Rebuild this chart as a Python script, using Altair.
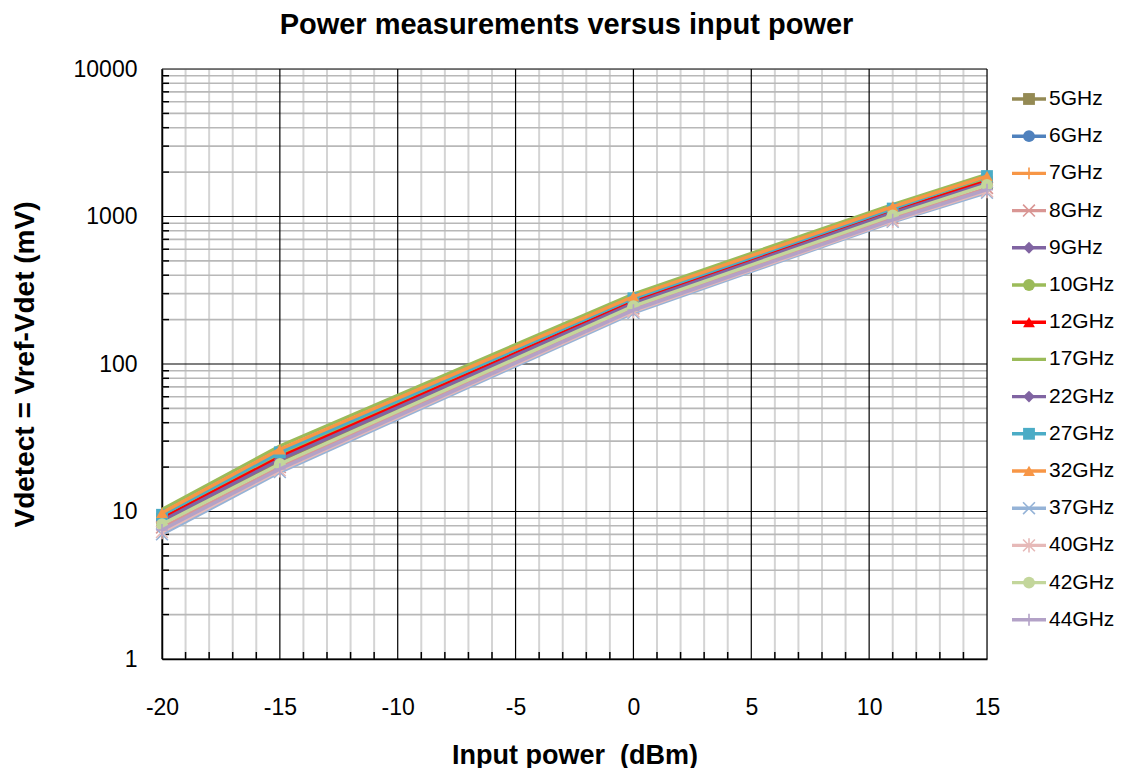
import altair as alt
import pandas as pd

# ---------------- data ----------------
series = ["5GHz", "6GHz", "7GHz", "8GHz", "9GHz", "10GHz", "12GHz", "17GHz",
          "22GHz", "27GHz", "32GHz", "37GHz", "40GHz", "42GHz", "44GHz"]
input_power = [-20, -15, 0, 11, 15]

v5 = [8.5, 22.0, 254, 1044, 1660]
v6 = [9.0, 23.5, 266, 1087, 1740]
v7 = [9.65, 25.7, 283, 1148, 1850]
v8 = [7.8, 20.0, 238, 975, 1560]
v9 = [8.8, 23.0, 262, 1072, 1710]
v10 = [9.3, 24.6, 274, 1117, 1790]
v12 = [8.95, 23.4, 265, 1085, 1735]
v17 = [10.3, 27.8, 298, 1205, 1930]
v22 = [8.67, 22.5, 258, 1058, 1690]
v27 = [9.5, 25.2, 279, 1132, 1880]
v32 = [9.8, 26.4, 287, 1165, 1875]
v37 = [7.0, 18.5, 222, 920, 1450]
v40 = [7.25, 19.0, 227, 935, 1485]
v42 = [8.2, 21.0, 247, 1016, 1640]
v44 = [7.5, 19.4, 232, 950, 1520]
values = [v5, v6, v7, v8, v9, v10, v12, v17, v22, v27, v32, v37, v40, v42, v44]

x_major = [-20, -15, -10, -5, 0, 5, 10, 15]
x_minor = [v for v in range(-19, 15) if v % 5 != 0]
y_major = [1, 10, 100, 1000, 10000]
y_minor = [k * 10 ** d for d in range(4) for k in range(2, 10)]

# ---------------- styles ----------------
X_PATH = "M-1,-1L1,1M-1,1L1,-1"
PLUS_PATH = "M-1,0L1,0M0,-1L0,1"
STAR_PATH = "M-1,-1L1,1M-1,1L1,-1M0,-1.2L0,1.2"
style = {
    "5GHz": ("#948A54", "square", True),
    "6GHz": ("#4F81BD", "circle", True),
    "7GHz": ("#F79646", PLUS_PATH, False),
    "8GHz": ("#D99694", X_PATH, False),
    "9GHz": ("#8064A2", "diamond", True),
    "10GHz": ("#9BBB59", "circle", True),
    "12GHz": ("#FF0000", "triangle-up", True),
    "17GHz": ("#9BBB59", None, True),
    "22GHz": ("#8064A2", "diamond", True),
    "27GHz": ("#4BACC6", "square", True),
    "32GHz": ("#F79646", "triangle-up", True),
    "37GHz": ("#95B3D7", X_PATH, False),
    "40GHz": ("#E6B9B8", STAR_PATH, False),
    "42GHz": ("#C3D69B", "circle", True),
    "44GHz": ("#B3A2C7", PLUS_PATH, False),
}

FONT = "Liberation Sans"
W, H = 825, 590
MSIZE = 140
LEG_X0 = W + 25   # legend line start, relative to plot left

rows = []
for s, vals in zip(series, values):
    for xp, v in zip(input_power, vals):
        rows.append({"series": s, "x": xp, "y": v})
df = pd.DataFrame(rows)
leg_df = pd.DataFrame({"series": series, "idx": list(range(len(series)))})

xscale = alt.Scale(domain=[-20, 15], nice=False, zero=False)
yscale = alt.Scale(type="log", domain=[1, 10000], nice=False)
leg_scale = alt.Scale(domain=[-0.806, 15.054], reverse=True, nice=False, zero=False)

X_AXIS = alt.Axis(values=x_major, labelExpr="toString(datum.value)",
                  title="Input power\u00a0\u00a0(dBm)", grid=False, ticks=False,
                  domain=True, domainColor="#000000", domainWidth=1.5,
                  labelFont=FONT, labelFontSize=23, labelColor="#000000", labelPadding=37,
                  titleFont=FONT, titleFontSize=27, titleFontWeight="bold",
                  titleColor="#000000", titlePadding=23, labelFlush=False)
Y_AXIS = alt.Axis(values=y_major, labelExpr="toString(datum.value)",
                  title="Vdetect = Vref-Vdet (mV)", grid=False,
                  ticks=False, domain=True, domainColor="#000000", domainWidth=1.5,
                  labelFont=FONT, labelFontSize=23, labelColor="#000000", labelPadding=25,
                  titleFont=FONT, titleFontSize=28, titleFontWeight="bold",
                  titleColor="#000000", titlePadding=34, labelFlush=False)


def X():
    return alt.X("x:Q", scale=xscale, axis=X_AXIS)


def Y(with_axis=False):
    return alt.Y("y:Q", scale=yscale, axis=Y_AXIS if with_axis else None)


def LY():
    return alt.Y("idx:Q", scale=leg_scale, axis=None)


layers = []
# grid lines
layers.append(alt.Chart(pd.DataFrame({"x": x_minor})).mark_rule(color="#D4D4D4", strokeWidth=2)
              .encode(x=X(), y=alt.value(0), y2=alt.value(H)))
layers.append(alt.Chart(pd.DataFrame({"y": y_minor})).mark_rule(color="#B8B8B8", strokeWidth=1.6)
              .encode(y=Y(True), x=alt.value(0), x2=alt.value(W)))
layers.append(alt.Chart(pd.DataFrame({"x": x_major})).mark_rule(color="#000000", strokeWidth=1.2)
              .encode(x=X(), y=alt.value(0), y2=alt.value(H)))
layers.append(alt.Chart(pd.DataFrame({"y": y_major})).mark_rule(color="#000000", strokeWidth=1.2)
              .encode(y=Y(), x=alt.value(0), x2=alt.value(W)))
# inside minor tick marks
layers.append(alt.Chart(pd.DataFrame({"y": y_minor})).mark_rule(color="#000000", strokeWidth=1.5)
              .encode(y=Y(), x=alt.value(0), x2=alt.value(7)))
layers.append(alt.Chart(pd.DataFrame({"x": x_minor})).mark_rule(color="#000000", strokeWidth=1.5)
              .encode(x=X(), y=alt.value(H - 7), y2=alt.value(H)))


def marker(base, shape, filled, color):
    if filled:
        return base.mark_point(shape=shape, filled=True, size=MSIZE, color=color, opacity=1)
    return base.mark_point(shape=shape, filled=False, size=MSIZE, color=color, opacity=1,
                           strokeWidth=1.6)


for s in series:
    color, shape, filled = style[s]
    base = alt.Chart(df).transform_filter(alt.datum.series == s)
    layers.append(base.mark_line(color=color, strokeWidth=3.4).encode(x=X(), y=Y()))
    if shape is not None:
        layers.append(marker(base, shape, filled, color).encode(x=X(), y=Y()))

# legend (drawn to the right of the plot)
for s in series:
    color, shape, filled = style[s]
    b = alt.Chart(leg_df).transform_filter(alt.datum.series == s)
    layers.append(b.mark_rule(color=color, strokeWidth=3.4).encode(
        y=LY(), x=alt.value(LEG_X0), x2=alt.value(LEG_X0 + 34)))
    if shape is not None:
        layers.append(marker(b, shape, filled, color).encode(y=LY(), x=alt.value(LEG_X0 + 17)))
layers.append(alt.Chart(leg_df).mark_text(align="left", baseline="middle", font=FONT,
                                          fontSize=21, color="#000000")
              .encode(y=LY(), x=alt.value(LEG_X0 + 37), text="series:N"))

chart = alt.layer(*layers).resolve_scale(y="independent").properties(
    width=W, height=H,
    padding={"left": 3, "top": 3, "right": 0, "bottom": 0},
    title=alt.TitleParams("Power measurements versus input power", font=FONT, fontSize=29,
                          fontWeight="bold", color="#000000", anchor="middle", frame="group",
                          offset=18, dx=-8),
).configure_view(stroke="transparent", strokeWidth=0).configure(background="#FFFFFF")

chart.save("out.html", embed_options={"renderer": "svg", "actions": False})
